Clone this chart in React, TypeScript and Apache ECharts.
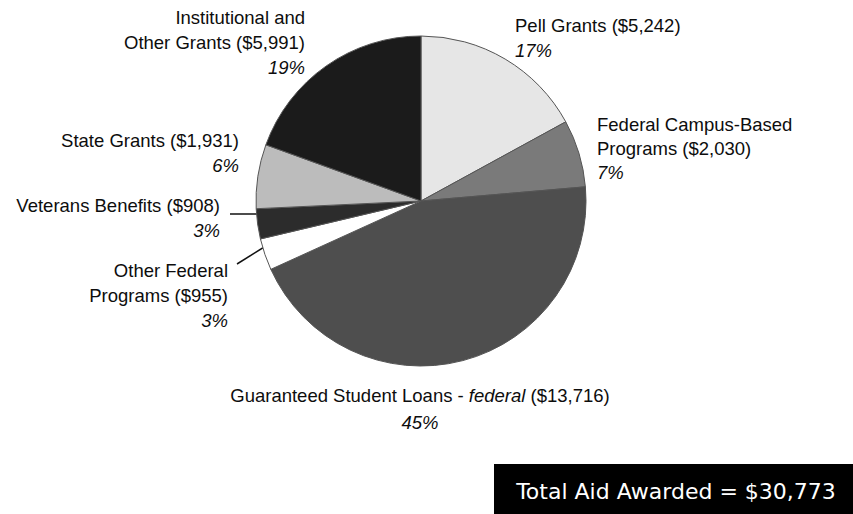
import React, { useEffect, useRef } from "react";
import * as echarts from "echarts";

const categories = [
  "Pell Grants",
  "Federal Campus-Based\nPrograms",
  "Guaranteed Student Loans - ",
  "Other Federal\nPrograms",
  "Veterans Benefits",
  "State Grants",
  "Institutional and\nOther Grants",
];
const values = [5242, 2030, 13716, 955, 908, 1931, 5991];
const colors = ["#e6e6e6", "#7a7a7a", "#4e4e4e", "#ffffff", "#2c2c2c", "#bcbcbc", "#1b1b1b"];
const totalLabel = "Total Aid Awarded = ";

// label anchor positions (pixels) and alignment, per slice
const labelPos: [number, number, string, number][] = [
  [515, 12.5, "left", 25],
  [597, 112.5, "left", 24],
  [420, 382, "center", 27],
  [228, 257.5, "right", 25],
  [220, 192.5, "right", 25],
  [239, 127.5, "right", 25],
  [305, 4.5, "right", 25],
];

const fmt = (v: number) => "$" + v.toLocaleString("en-US");

export default function App() {
  const ref = useRef<HTMLDivElement>(null);
  useEffect(() => {
    if (!ref.current) return;
    const chart = echarts.init(ref.current, null, { renderer: "svg" });
    const total = values.reduce((a, b) => a + b, 0);
    const font = "'Liberation Sans', Arial, sans-serif";
    const rich = {
      n: { fontFamily: font, fontSize: 18.5, fill: "#0d0d0d", color: "#0d0d0d" },
      i: { fontFamily: font, fontSize: 18.5, fontStyle: "italic", fill: "#0d0d0d", color: "#0d0d0d" },
    };
    const texts = categories.map((c, idx) => {
      const pct = Math.round((values[idx] / total) * 100) + "%";
      const lines = c.split("\n");
      const last = lines.length - 1;
      let body: string;
      if (idx === 2) {
        body = `{n|${lines[0]}}{i|federal}{n| (${fmt(values[idx])})}`;
      } else {
        body = lines
          .map((l, k) => (k === last ? `{n|${l} (${fmt(values[idx])})}` : `{n|${l}}`))
          .join("\n");
      }
      const [x, y, align, lh] = labelPos[idx];
      return {
        type: "text",
        x,
        y,
        style: {
          text: body + `\n{i|${pct}}`,
          rich: {
            n: { ...rich.n, lineHeight: lh },
            i: { ...rich.i, lineHeight: lh },
          },
          align,
          verticalAlign: "top",
        },
      };
    });
    chart.setOption({
      animation: false,
      backgroundColor: "#ffffff",
      series: [
        {
          type: "pie",
          center: [421, 201],
          radius: 165,
          startAngle: 90,
          clockwise: true,
          label: { show: false },
          labelLine: { show: false },
          emphasis: { disabled: true },
          itemStyle: { borderColor: "#555555", borderWidth: 1 },
          data: values.map((v, i) => ({
            value: v,
            name: categories[i],
            itemStyle: { color: colors[i] },
          })),
        },
      ],
      graphic: [
        ...texts,
        {
          type: "line",
          shape: { x1: 230, y1: 214, x2: 257, y2: 214 },
          style: { stroke: "#111", lineWidth: 1.5 },
        },
        {
          type: "line",
          shape: { x1: 237, y1: 264, x2: 269, y2: 244 },
          style: { stroke: "#111", lineWidth: 1.5 },
        },
        {
          type: "rect",
          shape: { x: 494, y: 464, width: 359, height: 50 },
          style: { fill: "#000000" },
        },
        {
          type: "text",
          x: 676,
          y: 491,
          style: {
            text: totalLabel + fmt(total),
            fill: "#ffffff",
            fontFamily: "'DejaVu Sans', sans-serif",
            fontSize: 22,
            align: "center",
            verticalAlign: "middle",
          },
        },
      ],
    });
    return () => chart.dispose();
  }, []);
  return (
    <div
      ref={ref}
      style={{ position: "fixed", left: 0, top: 0, width: 853, height: 514 }}
    />
  );
}
